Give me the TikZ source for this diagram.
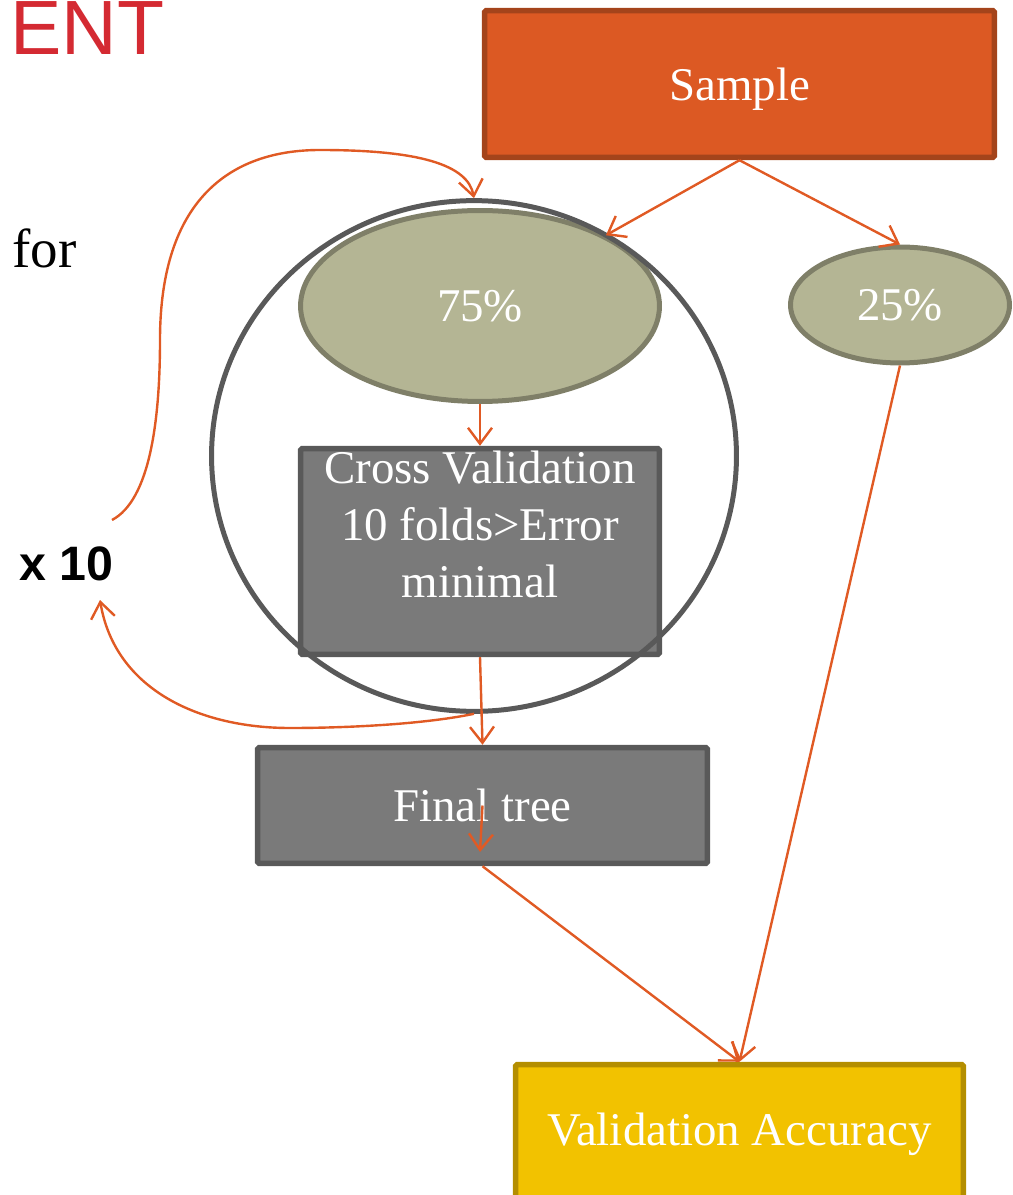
\documentclass[tikz,border=0pt]{standalone}
\usepackage{fontspec}
\setmainfont{Liberation Serif}
\setsansfont{Liberation Sans}
\usetikzlibrary{arrows.meta,shapes.geometric}

\definecolor{samplefill}{RGB}{220,89,35}
\definecolor{sampleline}{RGB}{164,68,27}
\definecolor{olivefill}{RGB}{180,181,148}
\definecolor{oliveline}{RGB}{127,127,104}
\definecolor{greyfill}{RGB}{122,122,122}
\definecolor{greyline}{RGB}{89,89,89}
\definecolor{goldfill}{RGB}{242,194,0}
\definecolor{goldline}{RGB}{180,142,0}
\definecolor{flowcol}{RGB}{224,90,36}
\definecolor{titlered}{RGB}{212,42,50}

\begin{document}
\begin{tikzpicture}[x=0.02cm,y=-0.02cm,
    box/.style={rectangle, rounded corners=1pt, line width=0.11cm, inner sep=0pt,
        text=white, align=center, font=\fontsize{26.7}{32.4}\selectfont},
    blob/.style={ellipse, line width=0.1cm, inner sep=0pt, text=white,
        font=\fontsize{26.7}{32.4}\selectfont, fill=olivefill, draw=oliveline},
    flow/.style={draw=flowcol, line width=0.048cm,
        -{Straight Barb[length=0.32cm,width=0.48cm]}}]
    \useasboundingbox (0,0) rectangle (1012,1195);

    % side texts
    \node[anchor=base west, inner sep=0pt, text=titlered,
        font=\sffamily\fontsize{43.8}{50}\selectfont] (title) at (10,55) {ENT};
    \node[anchor=base west, inner sep=0pt,
        font=\fontsize{31.3}{36}\selectfont] (for) at (12,268) {for};
    \node[anchor=base west, inner sep=0pt,
        font=\sffamily\bfseries\fontsize{27.5}{32}\selectfont] (times) at (19,580) {x 10};

    % boxes
    \node[box, fill=samplefill, draw=sampleline, minimum width=10.2cm,
        minimum height=2.94cm, text depth=0pt] (sample) at (739.5,84) {Sample};
    \node[blob, minimum width=7.18cm, minimum height=3.82cm] (e75) at (480,306) {75\%};
    \node[blob, minimum width=4.38cm, minimum height=2.32cm] (e25) at (900,305) {25\%};
    \node[box, fill=greyfill, draw=greyline, minimum width=7.18cm,
        minimum height=4.12cm, text depth=1.1cm] (cv) at (480,551.5)
        {Cross Validation\\10 folds>Error\\minimal};
    \node[box, fill=greyfill, draw=greyline, minimum width=9cm,
        minimum height=2.32cm] (final) at (482.5,805.5) {Final tree};
    \node[box, fill=goldfill, draw=goldline, minimum width=8.96cm,
        minimum height=2.78cm] (va) at (739.5,1134) {Validation Accuracy};

    \node[circle, draw=greyline, line width=0.1cm, inner sep=0pt,
        minimum size=10.5cm, yscale=0.973] (loop) at (474,456) {}; % repeat

    \coordinate (upstart) at (112,520);
    \coordinate (downend) at (100,600);
    \coordinate (stub) at (480,852);

    \draw[flow] (sample.south) -- (e75);
    \draw[flow] (sample.south) -- (e25.north);
    \draw[flow] (e75.south) -- (cv.north);
    \draw[flow] (cv.south) -- (final.north);
    \draw[flow] (final.center) -- (stub);
    \draw[flow] (final.south) -- (va.north);
    \draw[flow] (e25.south) -- (va.north);

    \draw[flow] (upstart) .. controls (150,500) and (160,420) .. (160,340)
        .. controls (160,200) and (230,150) .. (320,150)
        .. controls (420,150) and (468,165) .. (loop.north); % back to the top
    \draw[flow] (loop.south) .. controls (420,725) and (340,728) .. (290,728)
        .. controls (200,728) and (115,690) .. (downend); % count

\end{tikzpicture}
\end{document}
